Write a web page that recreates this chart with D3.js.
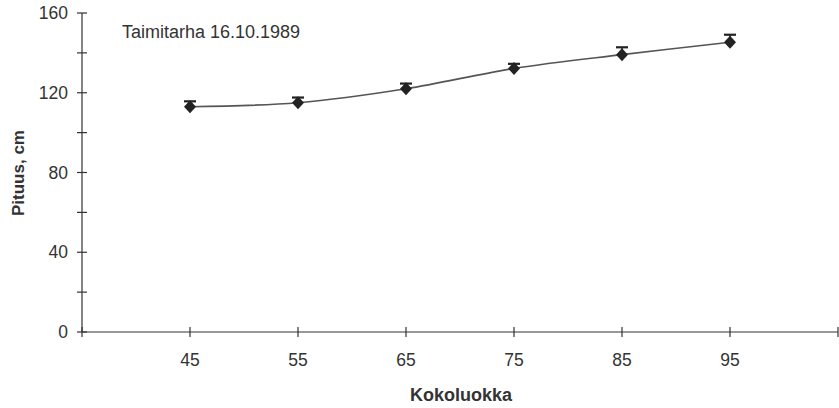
<!DOCTYPE html>
<html>
<head>
<meta charset="utf-8">
<script src="https://cdn.jsdelivr.net/npm/d3@7"></script>
<style>
  body { margin: 0; background: #fff; }
  text { font-family: "Liberation Sans", Arial, sans-serif; fill: #333; }
</style>
</head>
<body>
<svg id="chart" width="839" height="408"></svg>
<script>
// Size classes (cm) and mean height with upper error
const categories = [45, 55, 65, 75, 85, 95];
const heights = [113, 115, 122, 132.2, 139.1, 145.3];
const errors = [2.7, 2.6, 2.6, 2.3, 3.7, 3.8];
const yTicks = [0, 20, 40, 60, 80, 100, 120, 140, 160];
const yLabels = [0, 40, 80, 120, 160];
const title = "Taimitarha 16.10.1989";
const xTitle = "Kokoluokka";
const yTitle = "Pituus, cm";

const svg = d3.select("#chart");
const plotLeft = 82, plotRight = 838, plotTop = 13, plotBottom = 332;

// Category positions: slot index 1..6, axis spans slots 0..7
const x = d3.scaleLinear().domain([0, categories.length + 1]).range([plotLeft, plotRight]);
const y = d3.scaleLinear().domain([0, 160]).range([plotBottom, plotTop]);

const axisColor = "#333";

// Y axis
svg.append("line").attr("x1", plotLeft).attr("x2", plotLeft).attr("y1", y(160)).attr("y2", y(0))
  .attr("stroke", axisColor).attr("stroke-width", 1.2);
svg.selectAll(".yt").data(yTicks).join("line")
  .attr("x1", plotLeft - 5).attr("x2", plotLeft + 5)
  .attr("y1", d => y(d)).attr("y2", d => y(d))
  .attr("stroke", axisColor).attr("stroke-width", 1.2);
svg.selectAll(".yl").data(yLabels).join("text")
  .attr("x", plotLeft - 14).attr("y", d => y(d))
  .attr("dy", "0.35em").attr("text-anchor", "end")
  .attr("font-size", 17.5).text(d => d);

// X axis
svg.append("line").attr("x1", plotLeft).attr("x2", plotRight).attr("y1", plotBottom).attr("y2", plotBottom)
  .attr("stroke", axisColor).attr("stroke-width", 1.2);
const xTickIdx = d3.range(0, categories.length + 2);
svg.selectAll(".xt").data(xTickIdx).join("line")
  .attr("x1", d => x(d)).attr("x2", d => x(d))
  .attr("y1", plotBottom - 5).attr("y2", plotBottom + 5)
  .attr("stroke", axisColor).attr("stroke-width", 1.2);
svg.selectAll(".xl").data(categories).join("text")
  .attr("x", (d, i) => x(i + 1)).attr("y", plotBottom + 28)
  .attr("dy", "0.35em").attr("text-anchor", "middle")
  .attr("font-size", 17.5).text(d => d);

// Titles
svg.append("text").attr("x", 122).attr("y", 32).attr("dy", "0.35em")
  .attr("font-size", 18).text(title);
svg.append("text").attr("x", 461).attr("y", 395).attr("dy", "0.35em")
  .attr("text-anchor", "middle").attr("font-size", 18).attr("font-weight", "bold").text(xTitle);
svg.append("text").attr("transform", "translate(18,173) rotate(-90)")
  .attr("dy", "0.35em").attr("text-anchor", "middle")
  .attr("font-size", 17).attr("font-weight", "bold").text(yTitle);

// Smoothed line through the means
const pts = categories.map((c, i) => [x(i + 1), y(heights[i])]);
svg.append("path").attr("d", d3.line().curve(d3.curveCatmullRom)(pts))
  .attr("fill", "none").attr("stroke", "#555").attr("stroke-width", 1.6);

// Upper error bars
const g = svg.append("g");
categories.forEach((c, i) => {
  const cx = x(i + 1);
  g.append("line").attr("x1", cx).attr("x2", cx)
    .attr("y1", y(heights[i])).attr("y2", y(heights[i] + errors[i]))
    .attr("stroke", "#222").attr("stroke-width", 1.5);
  g.append("line").attr("x1", cx - 6).attr("x2", cx + 6)
    .attr("y1", y(heights[i] + errors[i])).attr("y2", y(heights[i] + errors[i]))
    .attr("stroke", "#222").attr("stroke-width", 2.2);
});

// Diamond markers
svg.selectAll(".m").data(categories).join("path")
  .attr("transform", (d, i) => `translate(${x(i + 1)},${y(heights[i])})`)
  .attr("d", "M0,-6.5L6,0L0,6.5L-6,0Z")
  .attr("fill", "#222");
</script>
</body>
</html>
